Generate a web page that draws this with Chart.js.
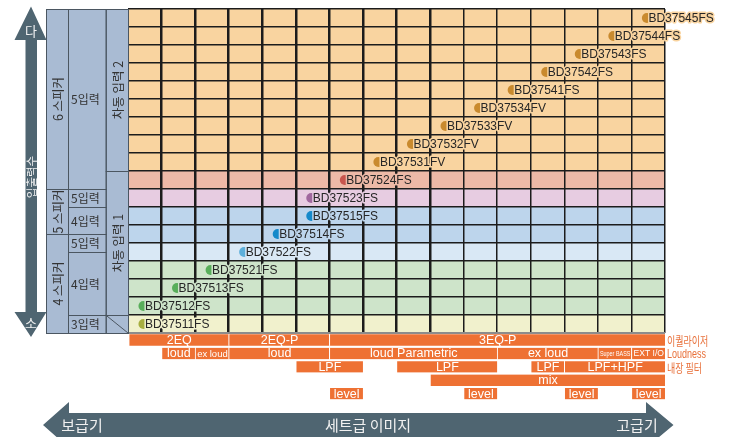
<!DOCTYPE html>
<html>
<head>
<meta charset="utf-8">
<script src="https://cdn.jsdelivr.net/npm/chart.js@4.4.1/dist/chart.umd.min.js"></script>
<style>
  html, body { margin: 0; padding: 0; background: #fff; }
  #wrap { position: relative; width: 732px; height: 437px; }
</style>
</head>
<body>
<div id="wrap"><canvas id="chart" width="732" height="437"></canvas></div>
<script>
// chips, one per grid row (top to bottom), column = set grade
var models = ["BD37545FS","BD37544FS","BD37543FS","BD37542FS","BD37541FS","BD37534FV","BD37533FV","BD37532FV","BD37531FV",
              "BD37524FS","BD37523FS","BD37515FS","BD37514FS","BD37522FS","BD37521FS","BD37513FS","BD37512FS","BD37511FS"];
var modelRow = [0,1,2,3,4,5,6,7,8,9,10,11,12,13,14,15,16,17];
var modelCol = [15,14,13,12,11,10,9,8,7,6,5,5,4,3,2,1,0,0];
var rowGroup = ["a","a","a","a","a","a","a","a","a","b","c","d","d","e","f","f","f","g"];

// left side panel (row spans)
var speakerLabels = ["6 스피커","5 스피커","4 스피커"];
var speakerSpan = [[0,10],[10,12.5],[12.5,18]];
var inputLabels = ["5입력","5입력","4입력","5입력","4입력","3입력"];
var inputSpan = [[0,10],[10,11],[11,12.5],[12.5,13.5],[13.5,17],[17,18]];
var diffLabels = ["차동 입력 2","차동 입력 1",""];
var diffSpan = [[0,9],[9,17],[17,18]];

// function bars under the grid
var featureNames = ["2EQ","2EQ-P","3EQ-P","loud","ex loud","loud","loud Parametric","ex loud","Super BASS","EXT I/O",
                    "LPF","LPF","LPF","LPF+HPF","mix","level","level","level","level"];
var featureLine = [0,0,0,1,1,1,1,1,1,1,2,2,2,2,3,4,4,4,4];
var featureFrom = [0,3,6,1,2,3,6,11,14,15,5,8,12,13,9,6,10,13,15];
var featureTo   = [3,6,16,2,3,6,11,14,15,16,7,11,13,16,16,7,11,14,16];
var lineLabels = ["이퀄라이저","Loudness","내장 필터","",""];

var axisY = ["다","소","입출력수"];
var axisX = ["보급기","세트급 이미지","고급기"];

// styles
var ROW_FILL = {a:"#F9D4A0", b:"#EDB9A7", c:"#E7CCE1", d:"#BDD5EC", e:"#D9E8F5", f:"#CEE4CA", g:"#F1F1CD"};
var DOT_FILL = {a:"#C98A2E", b:"#C8564E", c:"#A0679E", d:"#1589CA", e:"#5DAFDA", f:"#58AE5A", g:"#A7AE3F"};
var ORANGE = "#EE7133";
var SLATE = "#4F6571";
var PANEL = "#A9BBD3";
var FEAT_TOP = 18.39, FEAT_STEP = 0.745;
var LATIN = '"Liberation Sans", Arial, sans-serif';
var KR = '"Noto Sans CJK KR", sans-serif';

function featY(line) { return FEAT_TOP + line * FEAT_STEP; }

var bandData = modelRow.map(function(r){ return {x:[0,16], y:r+0.5}; });
var bandColors = modelRow.map(function(r, i){ return ROW_FILL[rowGroup[i]]; });
var dotData = models.map(function(m, i){ return {x:modelCol[i]+0.46, y:modelRow[i]+0.5}; });
var dotColors = models.map(function(m, i){ return DOT_FILL[rowGroup[i]]; });
var featData = featureNames.map(function(n, i){ return {x:[featureFrom[i], featureTo[i]], y:featY(featureLine[i])}; });

function fitText(ctx, txt, cx, cy, maxW, size, family) {
  ctx.font = size + "px " + family;
  var w = ctx.measureText(txt).width;
  if (w > maxW) {
    size = Math.max(8, size * maxW / w);
    ctx.font = size + "px " + family;
    w = ctx.measureText(txt).width;
  }
  var sx = w > maxW ? maxW / w : 1;
  ctx.save();
  ctx.translate(cx, cy);
  ctx.scale(sx, 1);
  ctx.fillText(txt, 0, 0);
  ctx.restore();
}

function rotText(ctx, txt, cx, cy, font, color) {
  ctx.save();
  ctx.translate(cx, cy);
  ctx.rotate(-Math.PI / 2);
  ctx.font = font;
  ctx.fillStyle = color;
  ctx.textAlign = "center";
  ctx.textBaseline = "middle";
  ctx.fillText(txt, 0, 0);
  ctx.restore();
}

var decor = {
  id: "decor",
  afterDraw: function(chart) {
    var ctx = chart.ctx;
    var ys = chart.scales.y;
    var area = chart.chartArea;
    var cols = [46, 68, 105.7, area.left];

    // left panel
    ctx.save();
    ctx.fillStyle = PANEL;
    ctx.fillRect(cols[0], area.top, cols[3] - cols[0], area.bottom - area.top);
    ctx.strokeStyle = "#4b5661";
    ctx.lineWidth = 1;
    function cells(spans, c) {
      spans.forEach(function(s){
        var t = ys.getPixelForValue(s[0]), b = ys.getPixelForValue(s[1]);
        ctx.strokeRect(cols[c] + 0.5, t + 0.5, cols[c+1] - cols[c], b - t);
      });
    }
    cells(speakerSpan, 0); cells(inputSpan, 1); cells(diffSpan, 2);
    // diagonal cell
    var last = diffSpan[diffSpan.length - 1];
    ctx.beginPath();
    ctx.moveTo(cols[2], ys.getPixelForValue(last[0]));
    ctx.lineTo(cols[3], ys.getPixelForValue(last[1]));
    ctx.stroke();
    ctx.restore();

    speakerLabels.forEach(function(l, i){
      var m = ys.getPixelForValue((speakerSpan[i][0] + speakerSpan[i][1]) / 2);
      rotText(ctx, l, (cols[0] + cols[1]) / 2 + 1, m, "12.5px " + KR, "#333");
    });
    inputLabels.forEach(function(l, i){
      var m = ys.getPixelForValue((inputSpan[i][0] + inputSpan[i][1]) / 2);
      ctx.font = "12px " + KR;
      ctx.fillStyle = "#333";
      ctx.textAlign = "left";
      ctx.textBaseline = "middle";
      ctx.fillText(l, cols[1] + 3, m + 0.5);
    });
    diffLabels.forEach(function(l, i){
      if (!l) return;
      var m = ys.getPixelForValue((diffSpan[i][0] + diffSpan[i][1]) / 2);
      rotText(ctx, l, (cols[2] + cols[3]) / 2 + 1, m, "12.5px " + KR, "#333");
    });

    // vertical double arrow
    ctx.save();
    ctx.fillStyle = SLATE;
    ctx.beginPath();
    ctx.moveTo(31, 6.5); ctx.lineTo(46.5, 40); ctx.lineTo(37, 40); ctx.lineTo(37, 312);
    ctx.lineTo(46.5, 312); ctx.lineTo(31, 337); ctx.lineTo(14.5, 312); ctx.lineTo(25.5, 312);
    ctx.lineTo(25.5, 40); ctx.lineTo(14.5, 40); ctx.closePath();
    ctx.fill();
    // horizontal double arrow
    ctx.beginPath();
    ctx.moveTo(43, 425); ctx.lineTo(69, 402); ctx.lineTo(69, 413); ctx.lineTo(646, 413);
    ctx.lineTo(646, 402); ctx.lineTo(673.5, 425); ctx.lineTo(646, 448); ctx.lineTo(646, 437);
    ctx.lineTo(69, 437); ctx.lineTo(69, 448); ctx.closePath();
    ctx.fill();
    ctx.restore();

    ctx.save();
    ctx.fillStyle = "#f2f2f2";
    ctx.textAlign = "center";
    ctx.textBaseline = "middle";
    ctx.font = "13px " + KR;
    ctx.fillText(axisY[0], 31, 31);
    ctx.fillText(axisY[1], 31, 323);
    ctx.restore();
    rotText(ctx, axisY[2], 31.5, 177, "11.5px " + KR, "#f2f2f2");

    ctx.save();
    ctx.fillStyle = "#f0f0f0";
    ctx.textBaseline = "middle";
    ctx.textAlign = "center";
    ctx.font = "15px " + KR;
    ctx.fillText(axisX[0], 82, 425);
    ctx.fillText(axisX[1], 368, 425);
    ctx.fillText(axisX[2], 637, 425);
    ctx.restore();

    // chip labels
    var dm = chart.getDatasetMeta(2);
    ctx.save();
    ctx.font = "12px " + LATIN;
    ctx.textAlign = "left";
    ctx.textBaseline = "middle";
    ctx.lineJoin = "round";
    dm.data.forEach(function(el, i){
      ctx.strokeStyle = ROW_FILL[rowGroup[i]];
      ctx.lineWidth = 3;
      ctx.strokeText(models[i], el.x + 1.5, el.y + 0.5);
      ctx.fillStyle = "#262626";
      ctx.fillText(models[i], el.x + 1.5, el.y + 0.5);
    });
    ctx.restore();

    // function bar labels
    var fm = chart.getDatasetMeta(1);
    ctx.save();
    ctx.fillStyle = "#fff";
    ctx.textAlign = "center";
    ctx.textBaseline = "middle";
    fm.data.forEach(function(el, i){
      var c = el.getCenterPoint();
      var w = Math.abs(el.x - el.base);
      fitText(ctx, featureNames[i], c.x + 0.5, c.y + 0.5, w - 3, 12.5, LATIN);
    });
    ctx.restore();

    // right side line labels
    ctx.save();
    ctx.fillStyle = "#E8703A";
    ctx.textAlign = "left";
    ctx.textBaseline = "middle";
    lineLabels.forEach(function(l, i){
      if (!l) return;
      var py = ys.getPixelForValue(featY(i));
      var isKr = /[\uac00-\ud7a3]/.test(l);
      ctx.save();
      ctx.translate(area.right + 2, py + 1);
      ctx.scale(0.72, 1);
      ctx.font = (isKr ? "12.5px " + KR : "12.5px " + LATIN);
      ctx.fillText(l, 0, 0);
      ctx.restore();
    });
    ctx.restore();
  }
};

new Chart(document.getElementById("chart"), {
  type: "scatter",
  data: {
    datasets: [
      {
        type: "bar", indexAxis: "y", data: bandData, backgroundColor: bandColors,
        barThickness: 18, grouped: false, borderWidth: 0, order: 3
      },
      {
        type: "bar", indexAxis: "y", data: featData, backgroundColor: ORANGE,
        barThickness: 11.4, grouped: false, borderSkipped: false,
        borderColor: "#fff", borderWidth: {left: 1, right: 0, top: 0, bottom: 0},
        clip: false, order: 2
      },
      {
        type: "scatter", data: dotData, pointRadius: 5, pointBackgroundColor: dotColors,
        pointBorderWidth: 0, order: 1
      }
    ]
  },
  options: {
    responsive: false,
    animation: false,
    events: [],
    layout: { padding: { left: 128, right: 67, top: 9, bottom: 104 } },
    plugins: { legend: { display: false }, tooltip: { enabled: false } },
    scales: {
      x: {
        type: "linear", min: 0, max: 16, offset: false, beginAtZero: false,
        ticks: { stepSize: 1, display: false },
        border: { display: false },
        grid: {
          drawTicks: false, z: 1, offset: false, color: "#1c1c1c",
          lineWidth: function(c){ var v = c.tick ? c.tick.value : 0; return (v >= 1 && v <= 9) ? 2.5 : 1.5; }
        }
      },
      y: {
        type: "linear", min: 0, max: 18, reverse: true, offset: false,
        ticks: { stepSize: 1, display: false },
        border: { display: false },
        grid: {
          drawTicks: false, z: 1, offset: false,
          color: function(c){ return c.index === 0 ? "#8c8c8c" : "#1c1c1c"; },
          lineWidth: function(c){ return c.index === 0 ? 2 : 1.5; }
        }
      }
    }
  },
  plugins: [decor]
});
</script>
</body>
</html>
